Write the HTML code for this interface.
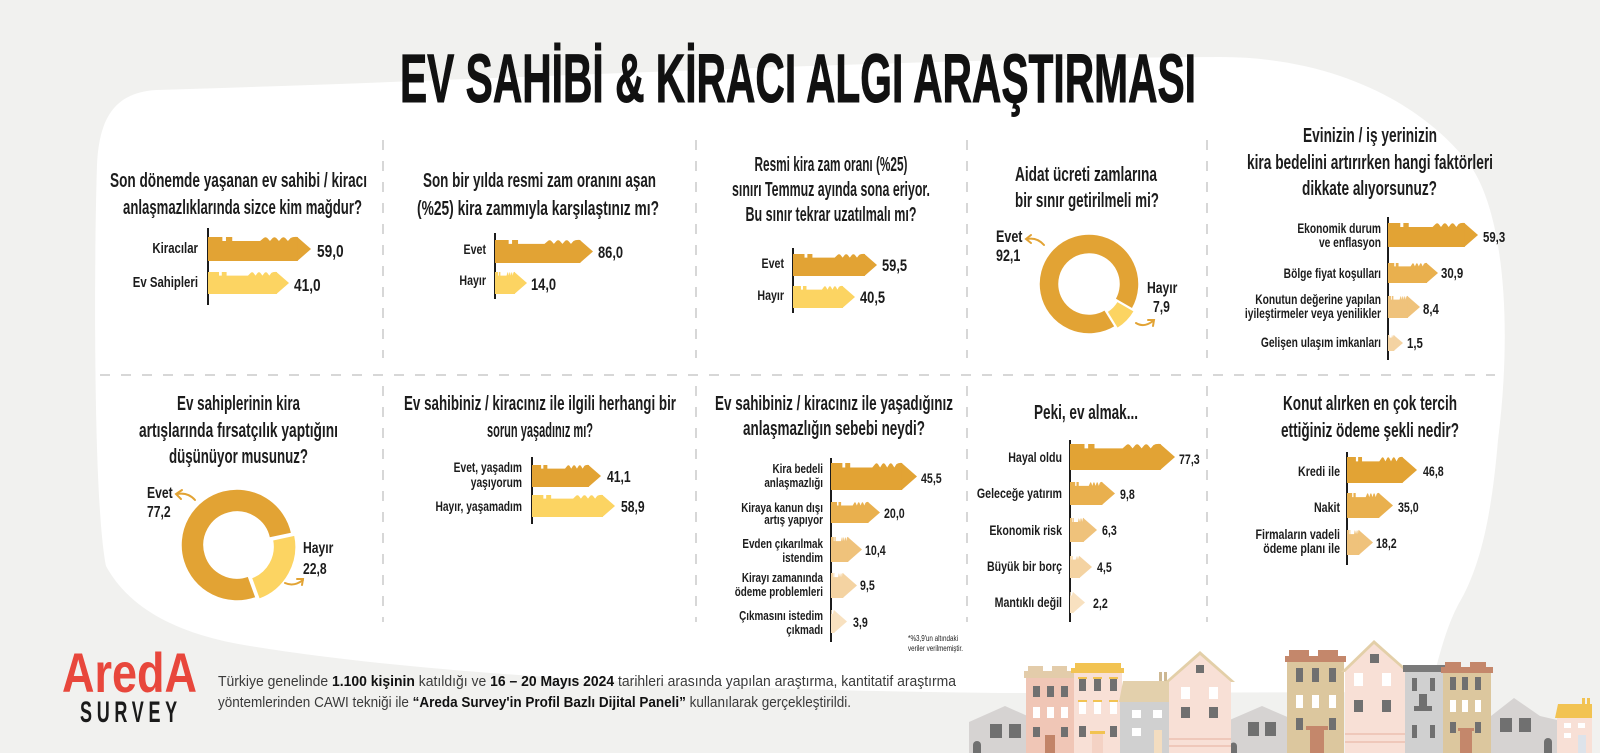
<!DOCTYPE html>
<html><head><meta charset="utf-8">
<style>
html,body{margin:0;padding:0;background:#f1f1ef;}
svg{display:block}
.t{font-family:"Liberation Sans",sans-serif;font-weight:700;font-size:20px;fill:#1c1c1c}
.b{font-family:"Liberation Sans",sans-serif;font-weight:700;fill:#1c1c1c}
.f{font-family:"Liberation Sans",sans-serif;font-size:15px;fill:#3a3a3a}
</style></head><body>
<svg width="1600" height="753" viewBox="0 0 1600 753" xmlns="http://www.w3.org/2000/svg">
<defs>
<path id="kb" d="M0,0 H16 V4 H20 V0 H27 V4 H58 L62,1 Q64,-0.5 66,1 L69,4 L72,1 Q74,-0.5 76,1 L79,4 L82,1 Q84,-0.5 86,1 L89,4 L92,1 Q95,-0.5 100,0 V24 H0 Z"/>
</defs>
<rect width="1600" height="753" fill="#f1f1ef"/>
<path d="M97,165 C99,118 115,92 157,90 C500,80 900,58 1220,57 C1330,57 1420,100 1470,165 C1505,215 1512,330 1498,440 C1492,510 1482,565 1458,605 C1445,630 1438,660 1430,692 L1000,693 C700,690 420,674 250,646 C180,635 130,610 106,566 C93,500 94,260 97,165 Z" fill="#ffffff"/>

<!-- Main title -->
<text x="400" y="102" textLength="796" lengthAdjust="spacingAndGlyphs" font-family="Liberation Sans, sans-serif" font-size="69" font-weight="700" fill="#111" stroke="#111" stroke-width="1">EV SAHİBİ &amp; KİRACI ALGI ARAŞTIRMASI</text>

<!-- dashed separators -->
<g stroke="#cacaca" stroke-width="1.5" stroke-dasharray="10 11" fill="none">
<path d="M383,140 V358 M696,140 V358 M967,140 V358 M1207,140 V358 M383,386 V622 M696,386 V622 M967,386 V622 M1207,386 V622 M100,375 H1495"/>
</g>

<!-- axes -->
<g stroke="#1c1c1c" stroke-width="2" fill="none">
<path d="M208,228 V305 M495,233 V299 M793,248 V313 M1388,217 V360 M532,457 V524 M831,458 V642 M1070,440 V622 M1347,452 V565"/>
</g>

<!-- panel titles -->
<text class="t" x="110" y="187" textLength="257" lengthAdjust="spacingAndGlyphs">Son dönemde yaşanan ev sahibi / kiracı</text>
<text class="t" x="123" y="214" textLength="239" lengthAdjust="spacingAndGlyphs">anlaşmazlıklarında sizce kim mağdur?</text>

<text class="t" x="423" y="187" textLength="233" lengthAdjust="spacingAndGlyphs">Son bir yılda resmi zam oranını aşan</text>
<text class="t" x="417" y="215" textLength="242" lengthAdjust="spacingAndGlyphs">(%25) kira zammıyla karşılaştınız mı?</text>

<text class="t" x="754.5" y="171" textLength="153" lengthAdjust="spacingAndGlyphs">Resmi kira zam oranı (%25)</text>
<text class="t" x="732" y="196" textLength="198" lengthAdjust="spacingAndGlyphs">sınırı Temmuz ayında sona eriyor.</text>
<text class="t" x="745.5" y="221" textLength="171" lengthAdjust="spacingAndGlyphs">Bu sınır tekrar uzatılmalı mı?</text>

<text class="t" x="1015" y="181" textLength="142" lengthAdjust="spacingAndGlyphs">Aidat ücreti zamlarına</text>
<text class="t" x="1015" y="207" textLength="144" lengthAdjust="spacingAndGlyphs">bir sınır getirilmeli mi?</text>

<text class="t" x="1303" y="142" textLength="134" lengthAdjust="spacingAndGlyphs">Evinizin / iş yerinizin</text>
<text class="t" x="1247" y="169" textLength="246" lengthAdjust="spacingAndGlyphs">kira bedelini artırırken hangi faktörleri</text>
<text class="t" x="1302" y="195" textLength="135" lengthAdjust="spacingAndGlyphs">dikkate alıyorsunuz?</text>

<text class="t" x="177" y="410" textLength="123" lengthAdjust="spacingAndGlyphs">Ev sahiplerinin kira</text>
<text class="t" x="139" y="437" textLength="199" lengthAdjust="spacingAndGlyphs">artışlarında fırsatçılık yaptığını</text>
<text class="t" x="169" y="463" textLength="139" lengthAdjust="spacingAndGlyphs">düşünüyor musunuz?</text>

<text class="t" x="404" y="410" textLength="272" lengthAdjust="spacingAndGlyphs">Ev sahibiniz / kiracınız ile ilgili herhangi bir</text>
<text class="t" x="487" y="437" textLength="106" lengthAdjust="spacingAndGlyphs">sorun yaşadınız mı?</text>

<text class="t" x="715" y="410" textLength="238" lengthAdjust="spacingAndGlyphs">Ev sahibiniz / kiracınız ile yaşadığınız</text>
<text class="t" x="743" y="435" textLength="182" lengthAdjust="spacingAndGlyphs">anlaşmazlığın sebebi neydi?</text>

<text class="t" x="1034" y="419" textLength="104" lengthAdjust="spacingAndGlyphs">Peki, ev almak...</text>

<text class="t" x="1283" y="410" textLength="174" lengthAdjust="spacingAndGlyphs">Konut alırken en çok tercih</text>
<text class="t" x="1281" y="437" textLength="178" lengthAdjust="spacingAndGlyphs">ettiğiniz ödeme şekli nedir?</text>

<!-- Panel 1 bars -->
<use href="#kb" transform="translate(208,237) scale(0.898,1)" fill="#e2a334"/>
<polygon points="297.3,237 311,249 297.3,261" fill="#e2a334"/>
<use href="#kb" transform="translate(208,272) scale(0.689,0.917)" fill="#fcd462"/>
<polygon points="276.4,272 289,283 276.4,294" fill="#fcd462"/>
<text class="b" font-size="15" text-anchor="end" transform="translate(198,253) scale(.76,1)">Kiracılar</text>
<text class="b" font-size="15" text-anchor="end" transform="translate(198,287) scale(.76,1)">Ev Sahipleri</text>
<text class="b" font-size="18" transform="translate(317,257) scale(.76,1)">59,0</text>
<text class="b" font-size="18" transform="translate(294,291) scale(.76,1)">41,0</text>

<!-- Panel 2 bars -->
<use href="#kb" transform="translate(495,240) scale(0.8535,0.958)" fill="#e2a334"/>
<polygon points="579.85,240 593,251.5 579.85,263" fill="#e2a334"/>
<use href="#kb" transform="translate(495,272) scale(0.199,0.917)" fill="#fcd462"/>
<polygon points="514.4,272 527,283 514.4,294" fill="#fcd462"/>
<text class="b" font-size="14" text-anchor="end" transform="translate(486,254) scale(.76,1)">Evet</text>
<text class="b" font-size="14" text-anchor="end" transform="translate(486,285) scale(.76,1)">Hayır</text>
<text class="b" font-size="17" transform="translate(598,258) scale(.76,1)">86,0</text>
<text class="b" font-size="17" transform="translate(531,290) scale(.76,1)">14,0</text>

<!-- Panel 3 bars -->
<use href="#kb" transform="translate(793,254) scale(0.719,0.917)" fill="#e2a334"/>
<polygon points="864.4,254 877,265 864.4,276" fill="#e2a334"/>
<use href="#kb" transform="translate(793,286) scale(0.499,0.917)" fill="#fcd462"/>
<polygon points="842.4,286 855,297 842.4,308" fill="#fcd462"/>
<text class="b" font-size="14" text-anchor="end" transform="translate(784,268) scale(.76,1)">Evet</text>
<text class="b" font-size="14" text-anchor="end" transform="translate(784,300) scale(.76,1)">Hayır</text>
<text class="b" font-size="17" transform="translate(882,271) scale(.76,1)">59,5</text>
<text class="b" font-size="17" transform="translate(860,303) scale(.76,1)">40,5</text>

<!-- Panel 4 donut -->
<path d="M1115.20,326.59 A50,50 0 1 1 1132.30,309 L1114.98,299 A30,30 0 1 0 1104.72,309.55 Z" fill="#e2a334" stroke="#fff" stroke-width="1.5"/>
<path d="M1134.45,311.09 A50,50 0 0 1 1117.35,328.68 L1106.87,311.64 A30,30 0 0 0 1117.13,301.09 Z" fill="#fcd462" stroke="#fff" stroke-width="1.5"/>
<g stroke="#e2a334" stroke-width="2" fill="none" stroke-linecap="round">
<path d="M1044,245 Q1037,237 1027,239"/><path d="M1031,235 L1026,239 L1031,243"/>
<path d="M1136,323 Q1144,328 1153,321"/><path d="M1148,320 L1154,320 L1153,326"/>
</g>
<text class="b" font-size="16.5" transform="translate(996,242) scale(.76,1)">Evet</text>
<text class="b" font-size="16.5" transform="translate(996,261) scale(.76,1)">92,1</text>
<text class="b" font-size="16" transform="translate(1147,293) scale(.76,1)">Hayır</text>
<text class="b" font-size="16" transform="translate(1153,312) scale(.76,1)">7,9</text>

<!-- Panel 5 bars -->
<use href="#kb" transform="translate(1388,223) scale(0.768,1)" fill="#e2a334"/>
<polygon points="1464.3,223 1478,235 1464.3,247" fill="#e2a334"/>
<use href="#kb" transform="translate(1388,263) scale(0.39,0.833)" fill="#e9b04e"/>
<polygon points="1426.5,263 1438,273 1426.5,283" fill="#e9b04e"/>
<use href="#kb" transform="translate(1388,296) scale(0.199,0.917)" fill="#efc27b"/>
<polygon points="1407.4,296 1420,307 1407.4,318" fill="#efc27b"/>
<use href="#kb" transform="translate(1388,335) scale(0.062,0.667)" fill="#f4d3a2"/>
<polygon points="1393.7,335 1403,343 1393.7,351" fill="#f4d3a2"/>
<text class="b" font-size="13.5" text-anchor="end" transform="translate(1381,233) scale(.76,1)">Ekonomik durum</text>
<text class="b" font-size="13.5" text-anchor="end" transform="translate(1381,247) scale(.76,1)">ve enflasyon</text>
<text class="b" font-size="13.5" text-anchor="end" transform="translate(1381,278) scale(.76,1)">Bölge fiyat koşulları</text>
<text class="b" font-size="13.5" text-anchor="end" transform="translate(1381,304) scale(.76,1)">Konutun değerine yapılan</text>
<text class="b" font-size="13.5" text-anchor="end" transform="translate(1381,318) scale(.76,1)">iyileştirmeler veya yenilikler</text>
<text class="b" font-size="13.5" text-anchor="end" transform="translate(1381,347) scale(.76,1)">Gelişen ulaşım imkanları</text>
<text class="b" font-size="15" transform="translate(1483,242) scale(.76,1)">59,3</text>
<text class="b" font-size="15" transform="translate(1441,278) scale(.76,1)">30,9</text>
<text class="b" font-size="15" transform="translate(1423,314) scale(.76,1)">8,4</text>
<text class="b" font-size="15" transform="translate(1407,348) scale(.76,1)">1,5</text>

<!-- Panel 6 donut -->
<path d="M256.08,597.65 A56,56 0 1 1 291.77,533.36 L269.28,538.14 A33,33 0 1 0 248.25,576.03 Z" fill="#e2a334" stroke="#fff" stroke-width="1.5"/>
<path d="M294.83,535.06 A56,56 0 0 1 259.14,599.35 L251.31,577.73 A33,33 0 0 0 272.34,539.84 Z" fill="#fcd462" stroke="#fff" stroke-width="1.5"/>
<g stroke="#e2a334" stroke-width="2" fill="none" stroke-linecap="round">
<path d="M195,500 Q188,492 177,494"/><path d="M182,490 L176,494 L181,499"/>
<path d="M285,583 Q294,587 303,580"/><path d="M297,579 L303,579 L302,585"/>
</g>
<text class="b" font-size="16" transform="translate(147,498) scale(.76,1)">Evet</text>
<text class="b" font-size="16" transform="translate(147,517) scale(.76,1)">77,2</text>
<text class="b" font-size="16" transform="translate(303,553) scale(.76,1)">Hayır</text>
<text class="b" font-size="16" transform="translate(303,574) scale(.76,1)">22,8</text>

<!-- Panel 7 bars -->
<use href="#kb" transform="translate(532,465) scale(0.569,0.917)" fill="#e2a334"/>
<polygon points="588.4,465 601,476 588.4,487" fill="#e2a334"/>
<use href="#kb" transform="translate(532,495) scale(0.709,0.917)" fill="#fcd462"/>
<polygon points="602.4,495 615,506 602.4,517" fill="#fcd462"/>
<text class="b" font-size="13.5" text-anchor="end" transform="translate(522,472) scale(.76,1)">Evet, yaşadım</text>
<text class="b" font-size="13.5" text-anchor="end" transform="translate(522,487) scale(.76,1)">yaşıyorum</text>
<text class="b" font-size="13.5" text-anchor="end" transform="translate(522,511) scale(.76,1)">Hayır, yaşamadım</text>
<text class="b" font-size="16" transform="translate(607,482) scale(.76,1)">41,1</text>
<text class="b" font-size="16" transform="translate(621,512) scale(.76,1)">58,9</text>

<!-- Panel 8 bars -->
<use href="#kb" transform="translate(831,463) scale(0.7115,1.125)" fill="#e2a334"/>
<polygon points="901.65,463 917,476.5 901.65,490" fill="#e2a334"/>
<use href="#kb" transform="translate(831,502) scale(0.3745,0.875)" fill="#e9b04e"/>
<polygon points="867.95,502 880,512.5 867.95,523" fill="#e9b04e"/>
<use href="#kb" transform="translate(831,537) scale(0.1725,1.042)" fill="#efc27b"/>
<polygon points="847.75,537 862,549.5 847.75,562" fill="#efc27b"/>
<use href="#kb" transform="translate(831,573) scale(0.1225,1.042)" fill="#f4d3a2"/>
<polygon points="842.75,573 857,585.5 842.75,598" fill="#f4d3a2"/>
<use href="#kb" transform="translate(831,610) scale(0.0335,0.958)" fill="#f8e1c0"/>
<polygon points="833.85,610 847,621.5 833.85,633" fill="#f8e1c0"/>
<text class="b" font-size="13" text-anchor="end" transform="translate(823,473) scale(.76,1)">Kira bedeli</text>
<text class="b" font-size="13" text-anchor="end" transform="translate(823,487) scale(.76,1)">anlaşmazlığı</text>
<text class="b" font-size="13" text-anchor="end" transform="translate(823,512) scale(.76,1)">Kiraya kanun dışı</text>
<text class="b" font-size="13" text-anchor="end" transform="translate(823,524) scale(.76,1)">artış yapıyor</text>
<text class="b" font-size="13" text-anchor="end" transform="translate(823,548) scale(.76,1)">Evden çıkarılmak</text>
<text class="b" font-size="13" text-anchor="end" transform="translate(823,562) scale(.76,1)">istendim</text>
<text class="b" font-size="13" text-anchor="end" transform="translate(823,582) scale(.76,1)">Kirayı zamanında</text>
<text class="b" font-size="13" text-anchor="end" transform="translate(823,596) scale(.76,1)">ödeme problemleri</text>
<text class="b" font-size="13" text-anchor="end" transform="translate(823,620) scale(.76,1)">Çıkmasını istedim</text>
<text class="b" font-size="13" text-anchor="end" transform="translate(823,634) scale(.76,1)">çıkmadı</text>
<text class="b" font-size="14" transform="translate(921,483) scale(.76,1)">45,5</text>
<text class="b" font-size="14" transform="translate(884,518) scale(.76,1)">20,0</text>
<text class="b" font-size="14" transform="translate(865,555) scale(.76,1)">10,4</text>
<text class="b" font-size="14" transform="translate(860,590) scale(.76,1)">9,5</text>
<text class="b" font-size="14" transform="translate(853,627) scale(.76,1)">3,9</text>
<text font-family="Liberation Sans, sans-serif" font-size="8.5" fill="#222" x="908" y="641" textLength="50" lengthAdjust="spacingAndGlyphs">*%3,9'un altındaki</text>
<text font-family="Liberation Sans, sans-serif" font-size="8.5" fill="#222" x="908" y="651" textLength="55" lengthAdjust="spacingAndGlyphs">veriler verilmemiştir.</text>

<!-- Panel 9 bars -->
<use href="#kb" transform="translate(1070,444) scale(0.907,1.083)" fill="#e2a334"/>
<polygon points="1160.2,444 1175,457 1160.2,470" fill="#e2a334"/>
<use href="#kb" transform="translate(1070,482) scale(0.3235,0.958)" fill="#e9b04e"/>
<polygon points="1101.85,482 1115,493.5 1101.85,505" fill="#e9b04e"/>
<use href="#kb" transform="translate(1070,518) scale(0.138,1)" fill="#efc27b"/>
<polygon points="1083.3,518 1097,530 1083.3,542" fill="#efc27b"/>
<use href="#kb" transform="translate(1070,556) scale(0.099,0.917)" fill="#f4d3a2"/>
<polygon points="1079.4,556 1092,567 1079.4,578" fill="#f4d3a2"/>
<use href="#kb" transform="translate(1070,592) scale(0.0345,0.875)" fill="#f8e1c0"/>
<polygon points="1072.95,592 1085,602.5 1072.95,613" fill="#f8e1c0"/>
<text class="b" font-size="14" text-anchor="end" transform="translate(1062,462) scale(.76,1)">Hayal oldu</text>
<text class="b" font-size="14" text-anchor="end" transform="translate(1062,498) scale(.76,1)">Geleceğe yatırım</text>
<text class="b" font-size="14" text-anchor="end" transform="translate(1062,535) scale(.76,1)">Ekonomik risk</text>
<text class="b" font-size="14" text-anchor="end" transform="translate(1062,571) scale(.76,1)">Büyük bir borç</text>
<text class="b" font-size="14" text-anchor="end" transform="translate(1062,607) scale(.76,1)">Mantıklı değil</text>
<text class="b" font-size="14" transform="translate(1179,464) scale(.76,1)">77,3</text>
<text class="b" font-size="14" transform="translate(1120,499) scale(.76,1)">9,8</text>
<text class="b" font-size="14" transform="translate(1102,535) scale(.76,1)">6,3</text>
<text class="b" font-size="14" transform="translate(1097,572) scale(.76,1)">4,5</text>
<text class="b" font-size="14" transform="translate(1093,608) scale(.76,1)">2,2</text>

<!-- Panel 10 bars -->
<use href="#kb" transform="translate(1347,457) scale(0.557,1.083)" fill="#e2a334"/>
<polygon points="1402.2,457 1417,470 1402.2,483" fill="#e2a334"/>
<use href="#kb" transform="translate(1347,493) scale(0.3225,1.042)" fill="#e9b04e"/>
<polygon points="1378.75,493 1393,505.5 1378.75,518" fill="#e9b04e"/>
<use href="#kb" transform="translate(1347,530) scale(0.1225,1.042)" fill="#efc27b"/>
<polygon points="1358.75,530 1373,542.5 1358.75,555" fill="#efc27b"/>
<text class="b" font-size="14" text-anchor="end" transform="translate(1340,476) scale(.76,1)">Kredi ile</text>
<text class="b" font-size="14" text-anchor="end" transform="translate(1340,512) scale(.76,1)">Nakit</text>
<text class="b" font-size="14" text-anchor="end" transform="translate(1340,539) scale(.76,1)">Firmaların vadeli</text>
<text class="b" font-size="14" text-anchor="end" transform="translate(1340,553) scale(.76,1)">ödeme planı ile</text>
<text class="b" font-size="14" transform="translate(1423,476) scale(.76,1)">46,8</text>
<text class="b" font-size="14" transform="translate(1398,512) scale(.76,1)">35,0</text>
<text class="b" font-size="14" transform="translate(1376,548) scale(.76,1)">18,2</text>

<!-- Footer logo -->
<text x="62" y="692" font-family="Liberation Sans, sans-serif" font-size="56" font-weight="700" fill="#e8473c" textLength="135" lengthAdjust="spacingAndGlyphs">AredA</text>
<text transform="translate(80,722) scale(0.6,1)" font-family="Liberation Sans, sans-serif" font-size="30" font-weight="700" fill="#1a1a1a" textLength="162" lengthAdjust="spacing">SURVEY</text>

<!-- Footer text -->
<text class="f" x="218" y="686" textLength="738" lengthAdjust="spacingAndGlyphs">Türkiye genelinde <tspan font-weight="700" fill="#111">1.100 kişinin</tspan> katıldığı ve <tspan font-weight="700" fill="#111">16 – 20 Mayıs 2024</tspan> tarihleri arasında yapılan araştırma, kantitatif araştırma</text>
<text class="f" x="218" y="707" textLength="633" lengthAdjust="spacingAndGlyphs">yöntemlerinden CAWI tekniği ile <tspan font-weight="700" fill="#111">“Areda Survey'in Profil Bazlı Dijital Paneli”</tspan> kullanılarak gerçekleştirildi.</text>

<!-- Houses -->
<g>
<polygon points="969,722 1005,706 1041,722 1041,753 969,753" fill="#d6d3d2"/>
<rect x="990" y="724" width="12" height="14" fill="#707070"/>
<rect x="1009" y="724" width="12" height="14" fill="#707070"/>
<path d="M973,753 V745 a4,4 0 0 1 8,0 V753 Z" fill="#707070"/>
<polygon points="1225,722 1262,706 1299,722 1299,753 1225,753" fill="#d6d3d2"/>
<rect x="1248" y="722" width="11" height="14" fill="#707070"/>
<rect x="1265" y="722" width="11" height="14" fill="#707070"/>
<path d="M1230,753 V746 a3.5,3.5 0 0 1 7,0 V753 Z" fill="#707070"/>
<polygon points="1491,716 1514,698 1540,716 1557,720 1557,753 1491,753" fill="#d6d3d2"/>
<rect x="1500" y="718" width="12" height="14" fill="#707070"/>
<rect x="1519" y="718" width="12" height="14" fill="#707070"/>
<path d="M1544,753 V742 a4,4 0 0 1 8,0 V753 Z" fill="#707070"/>
<rect x="1026" y="677" width="49" height="76" fill="#f0c6b6"/>
<rect x="1024" y="671" width="52" height="7" fill="#e3ccaa"/>
<rect x="1028" y="666" width="15" height="6" fill="#e3ccaa"/>
<rect x="1052" y="666" width="15" height="6" fill="#e3ccaa"/>
<g fill="#707070"><rect x="1033" y="686" width="7" height="11"/><rect x="1047" y="686" width="7" height="11"/><rect x="1061" y="686" width="7" height="11"/><rect x="1033" y="727" width="7" height="10"/><rect x="1061" y="727" width="7" height="10"/></g>
<g fill="#ffffff"><rect x="1033" y="707" width="7" height="11"/><rect x="1047" y="707" width="7" height="11"/><rect x="1061" y="707" width="7" height="11"/></g>
<rect x="1045" y="735" width="10" height="18" fill="#c28468"/>
<rect x="1074" y="672" width="48" height="81" fill="#f8e0d6"/>
<rect x="1075" y="663" width="46" height="6" fill="#f2c352"/>
<rect x="1071" y="668" width="53" height="5" fill="#f2c352"/>
<g fill="#707070"><rect x="1079" y="679" width="7" height="12"/><rect x="1094" y="679" width="7" height="12"/><rect x="1110" y="679" width="7" height="12"/><rect x="1079" y="726" width="7" height="11"/><rect x="1110" y="726" width="7" height="11"/></g>
<g fill="#f2c352"><rect x="1078" y="677" width="9" height="2"/><rect x="1093" y="677" width="9" height="2"/><rect x="1109" y="677" width="9" height="2"/><rect x="1078" y="700" width="9" height="2"/><rect x="1093" y="700" width="9" height="2"/><rect x="1109" y="700" width="9" height="2"/><rect x="1090" y="731" width="15" height="3"/></g>
<g fill="#ffffff"><rect x="1079" y="702" width="7" height="12"/><rect x="1094" y="702" width="7" height="12"/><rect x="1110" y="702" width="7" height="12"/></g>
<rect x="1092" y="734" width="11" height="19" fill="#f4d2c4"/>
<rect x="1159" y="672" width="3" height="10" fill="#cdb893"/>
<rect x="1164" y="672" width="3" height="10" fill="#cdb893"/>
<polygon points="1119,702 1123,681 1170,681 1174,702" fill="#e3d0ac"/>
<rect x="1120" y="702" width="54" height="51" fill="#d0d0d0"/>
<g fill="#ffffff"><rect x="1132" y="710" width="9" height="8"/><rect x="1153" y="710" width="9" height="8"/><rect x="1132" y="728" width="9" height="8"/></g>
<rect x="1154" y="730" width="8" height="23" fill="#f3ddc0"/>
<polygon points="1165,682 1200,651 1235,682" fill="#e3cfa8"/>
<polygon points="1169,682 1200,655 1231,682 1231,753 1169,753" fill="#f8e0d6"/>
<rect x="1196" y="665" width="8" height="8" fill="#707070"/>
<g fill="#ffffff"><rect x="1181" y="687" width="9" height="12"/><rect x="1209" y="687" width="9" height="12"/></g>
<g fill="#707070"><rect x="1181" y="707" width="9" height="11"/><rect x="1209" y="707" width="9" height="11"/></g>
<rect x="1169" y="738" width="62" height="2" fill="#efc8ba"/>
<rect x="1169" y="745" width="62" height="2" fill="#efc8ba"/>
<rect x="1287" y="661" width="57" height="92" fill="#dcc79e"/>
<rect x="1285" y="656" width="61" height="6" fill="#c4876b"/>
<rect x="1289" y="650" width="20" height="7" fill="#c4876b"/>
<rect x="1318" y="650" width="20" height="7" fill="#c4876b"/>
<g fill="#707070"><rect x="1296" y="668" width="7" height="14"/><rect x="1312" y="668" width="7" height="14"/><rect x="1329" y="668" width="7" height="14"/><rect x="1296" y="718" width="7" height="12"/><rect x="1329" y="718" width="7" height="12"/></g>
<g fill="#ffffff"><rect x="1296" y="695" width="7" height="13"/><rect x="1312" y="695" width="7" height="13"/><rect x="1329" y="695" width="7" height="13"/></g>
<rect x="1306" y="726" width="22" height="4" fill="#c4876b"/>
<rect x="1310" y="730" width="14" height="23" fill="#c4876b"/>
<polygon points="1341,672 1374,640 1410,672" fill="#e3cfa8"/>
<polygon points="1345,672 1374,644 1406,672 1406,753 1345,753" fill="#f8e0d6"/>
<rect x="1370" y="654" width="9" height="9" fill="#707070"/>
<g fill="#ffffff"><rect x="1354" y="673" width="9" height="13"/><rect x="1382" y="673" width="9" height="13"/></g>
<g fill="#707070"><rect x="1354" y="700" width="9" height="12"/><rect x="1382" y="700" width="9" height="12"/></g>
<rect x="1345" y="733" width="61" height="2" fill="#efc8ba"/>
<rect x="1345" y="741" width="61" height="2" fill="#efc8ba"/>
<rect x="1405" y="672" width="40" height="81" fill="#d0d0d0"/>
<rect x="1403" y="665" width="44" height="7" fill="#7a7a7a"/>
<g fill="#707070"><rect x="1412" y="678" width="5" height="13"/><rect x="1430" y="678" width="5" height="13"/><rect x="1419" y="694" width="8" height="14"/><rect x="1414" y="706" width="18" height="5"/><rect x="1412" y="725" width="5" height="13"/><rect x="1430" y="725" width="5" height="13"/></g>
<rect x="1443" y="672" width="48" height="81" fill="#dcc79e"/>
<rect x="1441" y="667" width="52" height="6" fill="#c4876b"/>
<rect x="1445" y="662" width="16" height="6" fill="#c4876b"/>
<rect x="1470" y="662" width="16" height="6" fill="#c4876b"/>
<g fill="#707070"><rect x="1450" y="677" width="6" height="13"/><rect x="1462" y="677" width="6" height="13"/><rect x="1475" y="677" width="6" height="13"/><rect x="1450" y="722" width="6" height="11"/><rect x="1475" y="722" width="6" height="11"/></g>
<g fill="#ffffff"><rect x="1450" y="700" width="6" height="12"/><rect x="1462" y="700" width="6" height="12"/><rect x="1475" y="700" width="6" height="12"/></g>
<rect x="1458" y="728" width="16" height="3" fill="#c4876b"/>
<rect x="1460" y="731" width="12" height="22" fill="#c4876b"/>
<rect x="1582" y="698" width="3" height="7" fill="#f2c352"/>
<rect x="1587" y="698" width="3" height="7" fill="#f2c352"/>
<polygon points="1555,718 1558,704 1592,704 1592,718" fill="#f2c352"/>
<rect x="1557" y="718" width="35" height="35" fill="#f8e0d6"/>
<g fill="#ffffff"><rect x="1564" y="723" width="7" height="5"/><rect x="1578" y="723" width="7" height="5"/><rect x="1564" y="733" width="7" height="5"/></g>
<rect x="1578" y="735" width="8" height="18" fill="#dde3ea"/>
</g>
</svg>
</body></html>
